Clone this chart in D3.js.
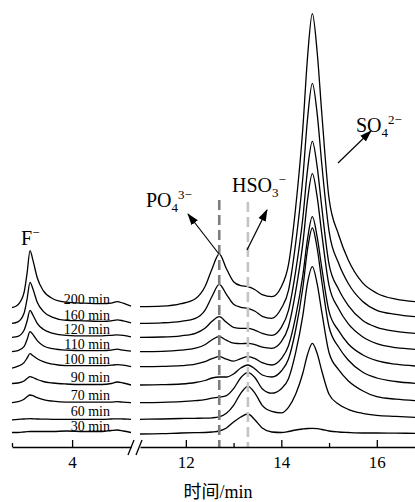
<!DOCTYPE html>
<html>
<head>
<meta charset="utf-8">
<script src="https://cdn.jsdelivr.net/npm/d3@7"></script>
<style>
  body { margin: 0; background: #fff; }
  svg { display: block; font-family: "Liberation Serif", "Times New Roman", serif; }
</style>
</head>
<body>
<div id="chart"></div>
<script>
// Sampling time of each trace (top to bottom)
var runLabels = ["200 min", "160 min", "120 min", "110 min", "100 min", "90 min", "70 min", "60 min", "30 min"];
// Vertical offset of each trace baseline (signal units)
var runOffsets = [127.3, 110.7, 96.7, 82.3, 67.3, 49, 31.3, 14.7, 0];

// Retention times (min), F- window and main window
var fTimes = [3.0, 3.1, 3.2, 3.25, 3.3, 3.35, 3.42, 3.52, 3.68, 3.9, 4.2, 4.5, 4.65, 4.75, 4.85, 4.98];
var mainTimes = [11.04, 11.5, 11.9, 12.2, 12.4, 12.55, 12.7, 12.85, 13.0, 13.15, 13.3, 13.45, 13.6, 13.8, 14.0,
                 14.15, 14.3, 14.45, 14.55, 14.65, 14.75, 14.85, 15.0, 15.2, 15.4, 15.7, 16.0, 16.4, 16.8];

// Signal above baseline, F- window, one row per trace
var fSignal = [
  [-1, 2, 14, 33, 56, 46, 29, 16, 8, 4.5, 3.5, 3, 3.5, 5, 3.5, 0.5],
  [0, 1.5, 10, 24, 41, 34, 21, 12, 6, 3, 2.5, 2, 2.5, 3.5, 2.5, 0.5],
  [0, 1, 7, 16, 27, 22, 14, 8, 4, 2, 1.5, 1.5, 2, 2.5, 2, 0.5],
  [0, 1, 5, 12, 20, 17, 11, 6, 3, 1.5, 1, 1, 1.5, 2.5, 1.5, 0.5],
  [-1.5, 0.5, 4, 8.5, 13, 11, 8, 5, 2.5, 1, 1, 1, 1.5, 2, 1.5, 0],
  [1.5, 2, 4, 6.5, 8.3, 7.5, 5.5, 3.5, 2, 1, 0.5, 0.5, 1.5, 3, 2, 0],
  [0, 1, 3.5, 6, 7.7, 7, 5, 3, 1.5, 0.5, 0.5, 0.5, 0.5, 1, 0.5, 0],
  [-0.5, 0, 0.3, 0.5, 0.6, 0.5, 0.3, 0.2, 0, 0, 0, 0, 0.3, 0.5, 0.3, 0],
  [1.5, 1.5, 2, 2.3, 2.5, 2.5, 2.5, 2.5, 2.5, 3, 2.5, 2.5, 3.5, 4, 3, 1.5]
];

// Signal above baseline, PO4/HSO3/SO4 window, one row per trace
var mainSignal = [
  [0, 0.5, 3, 8, 20, 38, 52.7, 38, 25, 21, 20, 17, 12, 10, 20, 42, 99, 178, 250, 293, 255, 192, 108, 72, 47, 24, 13.5, 7.5, 5],
  [0, 0.5, 2, 5, 13, 27, 39, 29, 19, 16, 15, 12, 7, 5, 15, 33, 80, 145, 205, 240, 210, 158, 92, 60, 40, 22, 13, 9, 6.6],
  [0, 0.3, 1.5, 4, 9, 16, 20.6, 15, 10, 9, 9, 7, 4, 2, 10, 27, 66, 119, 168, 196, 171, 129, 73, 48, 32, 17, 10, 6, 4],
  [0, 0.3, 1.5, 3.5, 7, 12, 15, 11.5, 8.5, 8, 8.4, 7, 4.5, 3.4, 10, 25, 60, 108, 152, 178, 155, 117, 66, 43, 28, 15, 8, 4, 2.4],
  [0, 0.3, 1, 2.5, 5, 8, 10, 7.5, 5.5, 8, 10, 8, 4, 1.7, 8, 21, 50, 91, 128, 150, 130, 98, 55, 36, 23, 12, 6, 2.5, 0.7],
  [0, 0.3, 1, 2.5, 4.5, 7, 8, 8, 11, 17, 20, 16, 10, 8, 14, 26, 55, 97, 136, 157, 137, 103, 58, 38, 25, 13, 7, 3.5, 1.7],
  [0, 0.3, 1, 2, 3, 4.5, 5.5, 7, 14, 25, 30, 25, 14, 9.5, 14, 24, 50, 87, 120, 136, 119, 90, 50, 33, 22, 12, 6, 3.5, 2],
  [0, 0.3, 0.8, 1, 1.2, 1.5, 2.5, 6, 14, 26, 33, 26, 14, 8, 6.5, 12, 25, 46, 65, 76, 66, 48, 25, 15, 10, 6, 4, 3, 2],
  [0, 0.3, 1, 1.3, 1.5, 2, 3, 6, 12, 17, 20, 14, 6, 2, 1.5, 2.5, 4, 5, 5.5, 5.7, 5.3, 4.5, 3, 2, 1.5, 1, 1, 0.8, 0.7]
];

// Marked retention times (dashed guides)
var po4Time = 12.7;
var hso3Time = 13.3;

var leftMajor = [4], leftMinor = [3];
var rightMajor = [12, 14, 16], rightMinor = [13, 15];

var width = 415, height = 502;
var axisY = 447;

var svg = d3.select("#chart").append("svg")
    .attr("width", width).attr("height", height);

var xLeft = d3.scaleLinear().domain([3, 4.98]).range([12, 131]);
var xRight = d3.scaleLinear().domain([11.04, 16.8]).range([140, 415]);
var y = d3.scaleLinear().domain([0, 434]).range([434, 0]);

//Arrow head marker
svg.append("defs").append("marker").attr("id", "arrow")
    .attr("viewBox", "0 0 12 12").attr("refX", 11).attr("refY", 6)
    .attr("markerWidth", 12).attr("markerHeight", 12).attr("markerUnits", "userSpaceOnUse")
    .attr("orient", "auto")
    .append("path").attr("d", "M0,2L12,6L0,10Z").style("fill", "#000");

// Draws one block of traces with the given x scale
function drawTraces(times, rows, xs, cls) {
    var line = d3.line()
        .x(function (d) { return xs(d[0]); })
        .y(function (d) { return y(d[1]); })
        .curve(d3.curveMonotoneX);
    svg.selectAll("." + cls).data(rows.map(function (row, i) {
        return row.map(function (v, j) { return [times[j], v + runOffsets[i]]; });
    })).enter().append("path").attr("class", cls)
        .attr("d", line)
        .style("fill", "none").style("stroke", "#000").style("stroke-width", 1.3)
        .style("stroke-linejoin", "round");
}
drawTraces(fTimes, fSignal, xLeft, "ftrace");
drawTraces(mainTimes, mainSignal, xRight, "mtrace");

// Run labels sitting on the F- window traces
svg.selectAll(".runLabel").data(runLabels).enter().append("text")
    .attr("class", "runLabel")
    .attr("x", 110).attr("y", function (d, i) { return y(runOffsets[i]) - 3; })
    .attr("text-anchor", "end").style("font-size", "14px")
    .text(function (d) { return d; });

// Dashed guides for PO4 and HSO3
var guides = [{t: po4Time, c: "#7d7d7d", top: 200}, {t: hso3Time, c: "#c4c4c4", top: 202}];
svg.selectAll(".guide").data(guides).enter().append("line").attr("class", "guide")
    .attr("x1", function (d) { return xRight(d.t); }).attr("x2", function (d) { return xRight(d.t); })
    .attr("y1", function (d) { return d.top; }).attr("y2", axisY)
    .style("stroke", function (d) { return d.c; }).style("stroke-width", 2.6)
    .style("stroke-dasharray", "10,5");

// Axes: major ticks labelled, minor ticks short
function drawAxis(xs, major, minor) {
    var gMaj = svg.append("g").attr("transform", "translate(0," + axisY + ")")
        .call(d3.axisBottom(xs).tickValues(major).tickSize(-7).tickSizeOuter(0).tickPadding(9)
            .tickFormat(d3.format("d")));
    var gMin = svg.append("g").attr("transform", "translate(0," + axisY + ")")
        .call(d3.axisBottom(xs).tickValues(minor).tickSize(-4).tickSizeOuter(0).tickFormat(""));
    gMin.select(".domain").remove();
    [gMaj, gMin].forEach(function (g) {
        g.selectAll("path, line").style("stroke", "#000").style("stroke-width", 1.3);
        g.selectAll("text").style("font-size", "17px").style("font-family", "'Liberation Serif', serif")
            .style("fill", "#000");
    });
}
drawAxis(xLeft, leftMajor, leftMinor);
drawAxis(xRight, rightMajor, rightMinor);

// Axis break marks
svg.selectAll(".brk").data([128, 136]).enter().append("line").attr("class", "brk")
    .attr("x1", function (d) { return d; }).attr("y1", 455)
    .attr("x2", function (d) { return d + 6; }).attr("y2", 440)
    .style("stroke", "#000").style("stroke-width", 1.3);

svg.append("text").attr("x", 218).attr("y", 498).attr("text-anchor", "middle")
    .style("font-size", "18px")
    .style("font-family", "'Liberation Serif', 'Noto Sans CJK SC', serif")
    .text("时间/min");

// Ion labels with sub/superscripts
function ionLabel(x, yy, main, sub, sup) {
    var t = svg.append("text").attr("x", x).attr("y", yy).style("font-size", "20px");
    t.append("tspan").text(main);
    if (sub) t.append("tspan").attr("dy", 5).style("font-size", "13px").text(sub);
    if (sup) t.append("tspan").attr("dy", sub ? -13 : -8).style("font-size", "13px").text(sup);
}
ionLabel(21, 245, "F", null, "−");
ionLabel(146, 207, "PO", "4", "3−");
ionLabel(232, 192, "HSO", "3", "−");
ionLabel(356, 132, "SO", "4", "2−");

// Arrows pointing to the labels
var arrows = [[219, 254, 188, 214], [247, 250, 267, 210], [338, 163, 371, 131]];
svg.selectAll(".arrow").data(arrows).enter().append("line").attr("class", "arrow")
    .attr("x1", function (d) { return d[0]; }).attr("y1", function (d) { return d[1]; })
    .attr("x2", function (d) { return d[2]; }).attr("y2", function (d) { return d[3]; })
    .style("stroke", "#000").style("stroke-width", 1.2).attr("marker-end", "url(#arrow)");
</script>
</body>
</html>
